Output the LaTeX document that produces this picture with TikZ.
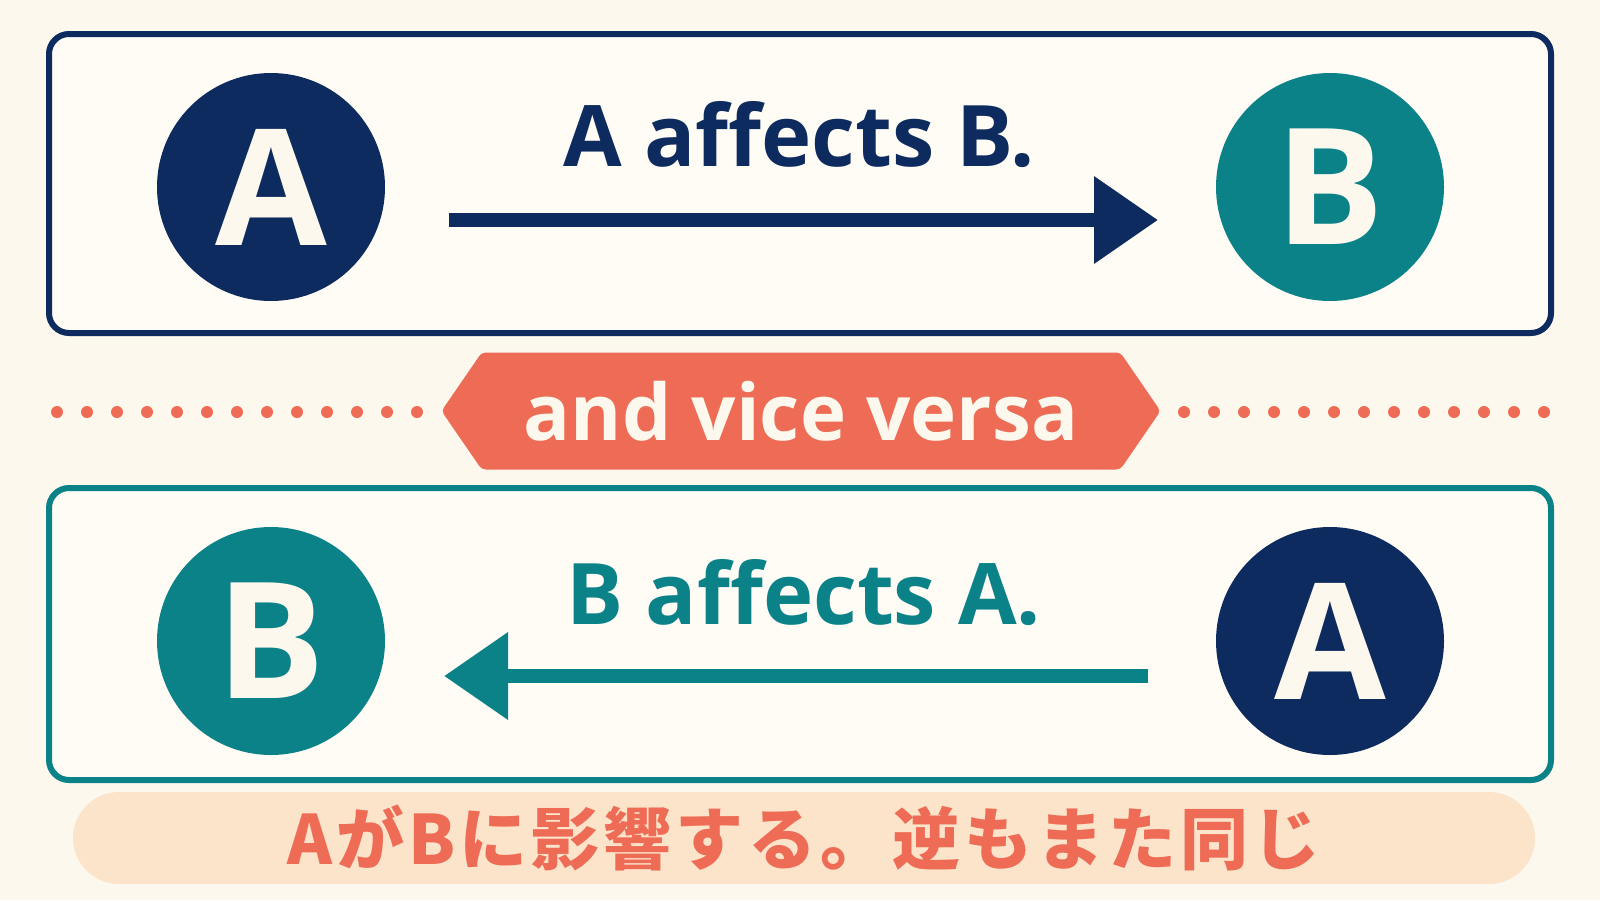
\documentclass[tikz,border=0pt]{standalone}
\usepackage{fontspec}
\setmainfont{Open Sans}[Ligatures=NoCommon]
\newfontfamily\jpfont{Noto Sans CJK JP}[LetterSpace=6]
\usetikzlibrary{positioning,arrows.meta,shapes.symbols}
\definecolor{mynavy}{RGB}{13,43,94}
\definecolor{myteal}{RGB}{10,130,136}
\definecolor{mycoral}{RGB}{238,108,85}
\definecolor{mypeach}{RGB}{252,228,203}
\definecolor{mycream}{RGB}{253,248,238}
\definecolor{myboxbg}{RGB}{255,252,246}
\begin{document}
\begin{tikzpicture}[x=1pt,y=-1pt,
circ/.style={
  circle,
  minimum size=228pt,
  inner sep=0pt,
  text=mycream,
  font={\fontsize{162}{162}\selectfont\bfseries}},
navyc/.style={circ,fill=mynavy},
tealc/.style={circ,fill=myteal},
frame/.style={line width=6pt,rounded corners=20pt,fill=myboxbg},
title/.style={anchor=base,font={\fontsize{85}{85}\selectfont\bfseries}},
link/.style={line width=14pt,-{Triangle[length=64pt,width=84pt]}},
banner/.style={
  signal,
  signal to=west and east,
  signal pointer angle=111,
  fill=mycoral,
  rounded corners=4pt,
  minimum width=719pt,
  minimum height=117pt,
  inner sep=0pt,
  text=mycream,
  font={\fontsize{78}{78}\selectfont\bfseries}},
pill/.style={
  fill=mypeach,
  rounded corners=46pt,
  minimum width=1462pt,
  minimum height=92pt,
  text=mycoral,
  font={\jpfont\fontsize{68}{68}\selectfont\bfseries}},
]
\fill[mycream] (0,0) rectangle (1600,900);
\useasboundingbox (0,0) rectangle (1600,900);
% top panel
\draw[frame,draw=mynavy] (49,34) rectangle (1551,333);
\node[navyc] (A1) at (271,187) {A};
\node[tealc] (B1) at (1330,187) {B};
\node[title,text=mynavy] (t1) at (799,166) {A affects B.};
\coordinate (s1) at (449,220);
\coordinate (e1) at (1158,220);
\draw[link,mynavy] (s1) -- (e1);
% middle
\foreach \i in {0,...,12}
  \fill[mycoral] (57+30*\i,412) circle (6pt);
\foreach \i in {0,...,12}
  \fill[mycoral] (1184+30*\i,412) circle (6pt);
\node[banner] (vv) at (801,411) {and vice versa};
% bottom panel
\draw[frame,draw=myteal] (49,488) rectangle (1551,780);
\node[tealc] (B2) at (271,641) {B};
\node[navyc] (A2) at (1330,641) {A};
\node[title,text=myteal] (t2) at (804,624) {B affects A.};
\coordinate (s2) at (1148,676);
\coordinate (e2) at (444,676);
\draw[link,myteal] (s2) -- (e2);
\node[pill] (jp) at (804,838) {AがBに影響する。逆もまた同じ};
\end{tikzpicture}
\end{document}
